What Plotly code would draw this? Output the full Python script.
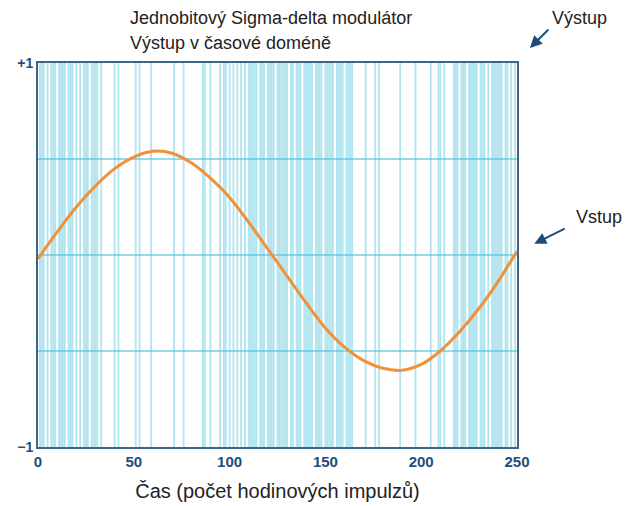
import plotly.graph_objects as go

# Clock indices where the modulator output has a transition (vertical lines)
pulse_clocks = [1, 2, 3, 5, 7, 8, 9, 11, 12, 13, 14, 16, 17, 18, 20, 22, 24, 25, 26, 28, 29, 30, 31, 33,
                40, 42, 51, 53, 59, 71, 76,
                86, 87, 90, 95, 97, 98, 100, 102, 104, 106, 108,
                110, 111, 112, 113, 114, 116, 117, 118, 120, 121, 122, 123, 125, 126, 127, 128, 129, 130,
                132, 133, 135, 136, 137, 139, 140, 141, 142, 143, 145, 146, 147, 148, 150, 151, 152, 153,
                154, 156, 157, 158, 159, 161, 162, 163, 164,
                171, 176, 178, 189, 197, 205,
                209, 210, 212, 217, 218, 219, 221, 222, 223, 225, 226, 227, 228, 229, 231, 232, 233, 235,
                237, 238, 239, 240, 241, 242, 244, 245, 247, 249]

# Analog input
input_t = [0, 10, 20, 30, 40, 50, 60, 70, 80, 90, 100, 110, 120, 130, 140, 150, 160, 170, 180, 190,
           200, 210, 220, 230, 240, 250]
input_v = [-0.02, 0.12, 0.25, 0.36, 0.45, 0.51, 0.54, 0.53, 0.48, 0.40, 0.30, 0.17, 0.03, -0.11,
           -0.25, -0.38, -0.48, -0.55, -0.59, -0.60, -0.57, -0.50, -0.40, -0.28, -0.14, 0.02]

x_ticks = [0, 50, 100, 150, 200, 250]
y_ticks = [-1, 1]
y_ticktext = ["<b>\u22121</b>", "<b>+1</b>"]

TICK_COLOR = "#1f4d7a"
FRAME = "#3d6585"
TXT = "#222222"

lx, ly = [], []
for c in pulse_clocks:
    lx += [c, c, None]
    ly += [-1, 1, None]

fig = go.Figure()
fig.add_trace(go.Scatter(x=lx, y=ly, mode="lines",
                         line=dict(color="rgba(80,195,220,0.45)", width=1.8),
                         hoverinfo="skip", showlegend=False))
fig.add_trace(go.Scatter(x=input_t, y=input_v, mode="lines",
                         line=dict(color="#f0923a", width=3, shape="spline", smoothing=1.0),
                         showlegend=False))

fig.update_layout(
    width=627, height=506,
    margin=dict(l=38, r=110, t=63, b=59),
    paper_bgcolor="white", plot_bgcolor="white",
    font=dict(family="Liberation Sans, Arial, sans-serif", color=TXT),
    xaxis=dict(range=[0, 250], tickvals=x_ticks, showgrid=False, zeroline=False,
               showline=True, mirror=True, linecolor=FRAME, linewidth=2,
               ticks="", ticklen=0, automargin=False,
               tickfont=dict(size=15, color=TICK_COLOR, weight="bold"),
               title=dict(text="Čas (počet hodinových impulzů)", font=dict(size=20, color=TXT),
                          standoff=15)),
    yaxis=dict(range=[-1, 1], tickvals=y_ticks, ticktext=y_ticktext, showgrid=False, zeroline=False,
               showline=True, mirror=True, linecolor=FRAME, linewidth=2, ticks="", automargin=False,
               tickfont=dict(size=14, color=TICK_COLOR, weight="bold"),
               minor=dict(tickvals=[-0.5, 0, 0.5], showgrid=True,
                          gridcolor="rgba(80,195,220,0.6)", gridwidth=1.5, ticks="")),
)

fig.add_annotation(xref="paper", yref="paper", x=0.188, y=1.117, xanchor="left", yanchor="middle",
                   text="Jednobitový Sigma-delta modulátor", showarrow=False,
                   font=dict(size=18, color=TXT))
fig.add_annotation(xref="paper", yref="paper", x=0.188, y=1.052, xanchor="left", yanchor="middle",
                   text="Výstup v časové doméně", showarrow=False,
                   font=dict(size=18, color=TXT))
fig.add_annotation(xref="paper", yref="paper", x=1.069, y=1.117, xanchor="left", yanchor="middle",
                   text="Výstup", showarrow=False, font=dict(size=18, color=TXT))
fig.add_annotation(xref="paper", yref="paper", x=1.118, y=0.599, xanchor="left", yanchor="middle",
                   text="Vstup", showarrow=False, font=dict(size=18, color=TXT))
fig.add_annotation(xref="paper", yref="paper", x=1.027, y=1.039, text="", showarrow=True,
                   ax=20, ay=-20, arrowhead=2, arrowsize=1.2, arrowwidth=2, arrowcolor=TICK_COLOR)
fig.add_annotation(xref="paper", yref="paper", x=1.036, y=0.529, text="", showarrow=True,
                   ax=32, ay=-16, arrowhead=2, arrowsize=1.2, arrowwidth=2, arrowcolor=TICK_COLOR)

fig.write_html("out.html")
